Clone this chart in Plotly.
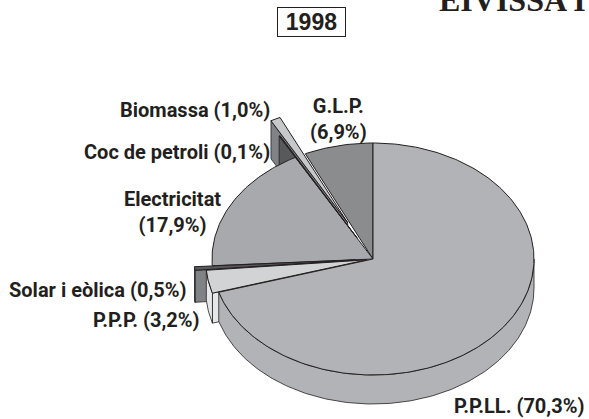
import numpy as np
import plotly.graph_objects as go

# data (clockwise from 12 o'clock)
names = ["P.P.LL.", "P.P.P.", "Solar i eòlica", "Electricitat", "Coc de petroli", "Biomassa", "G.L.P."]
values = [70.3, 3.2, 0.5, 17.9, 0.1, 1.0, 6.9]
labels = ["P.P.LL. (70,3%)", "P.P.P. (3,2%)", "Solar i eòlica (0,5%)", "Electricitat<br>(17,9%)",
          "Coc de petroli (0,1%)", "Biomassa (1,0%)", "G.L.P.<br>(6,9%)"]
year = "1998"
title_text = "EIVISSA I"

# style
W, H = 589, 419
CX, CY, RX, RY = 373, 259, 161, 116
explode = [0, 0.04, 0.11, 0, 0.21, 0.35, 0]
depth = [29, 30, 32, 0, 30, 38, 0]
top_col = ["#b1b3b6", "#d1d3d4", "#58595b", "#a7a9ac", "#414042", "#c7c8ca", "#8a8c8e"]
wall_col = ["#b1b3b6", "#e6e7e8", "#808285", "#a7a9ac", "#58595b", "#808285", "#8a8c8e"]
LINE = dict(color="#231f20", width=1)
WALL_LINE = dict(color="#231f20", width=0.8)

cum = np.cumsum([0] + values)
total = cum[-1]
start = cum[:-1] / total * 2 * np.pi
end = cum[1:] / total * 2 * np.pi

fig = go.Figure()


def offset(i):
    m = (start[i] + end[i]) / 2
    return explode[i] * np.sin(m), explode[i] * np.cos(m)


def arc(a, b):
    n = max(2, int(abs(b - a) * 60))
    return np.linspace(a, b, n)


def poly(xs, ys, col, line=LINE):
    fig.add_trace(go.Scatter(x=xs, y=ys, mode="lines", fill="toself", fillcolor=col, line=line,
                             hoverinfo="skip", showlegend=False))


def top(i):
    dx, dy = offset(i)
    t = arc(start[i], end[i])
    xs = np.r_[dx, dx + np.sin(t), dx]
    ys = np.r_[dy, dy + np.cos(t), dy]
    poly(xs, ys, top_col[i])


def outer_wall(i, a=None, b=None):
    dx, dy = offset(i)
    d = depth[i] / RY
    t = arc(start[i] if a is None else a, end[i] if b is None else b)
    xs = np.r_[dx + np.sin(t), dx + np.sin(t[::-1]), dx + np.sin(t[0])]
    ys = np.r_[dy + np.cos(t), dy + np.cos(t[::-1]) - d, dy + np.cos(t[0])]
    poly(xs, ys, wall_col[i], WALL_LINE)


def cut_face(i, a, col=None):
    dx, dy = offset(i)
    d = depth[i] / RY
    ex, ey = dx + np.sin(a), dy + np.cos(a)
    poly([dx, ex, ex, dx, dx], [dy, ey, ey - d, dy - d, dy], col or wall_col[i], WALL_LINE)


# painter's order, back to front
top(6)                      # G.L.P.
cut_face(5, start[5])       # Biomassa
cut_face(4, start[4])       # Coc de petroli
top(3)                      # Electricitat
top(4)
top(5)
cut_face(2, start[2])       # Solar
outer_wall(2)
top(2)
cut_face(1, start[1])       # P.P.P.
outer_wall(1)
top(1)
outer_wall(0, np.pi / 2, end[0])  # P.P.LL.
top(0)

font_lbl = dict(family="Roboto", size=20, color="#231f20")
anchors = [(519.5, 406), (146.5, 320), (97.5, 290), (172, 212), (177, 152), (195, 110), (338, 119)]
ann = []
for s, (px, py) in zip(labels, anchors):
    ann.append(dict(text="<b>%s</b>" % s, x=px / W, y=1 - py / H, xref="paper", yref="paper",
                    xanchor="center", yanchor="middle", showarrow=False, font=font_lbl,
                    align="center"))
ann.append(dict(text="<b>%s</b>" % year, x=311.5 / W, y=1 - 22 / H, xref="paper", yref="paper",
                xanchor="center", yanchor="middle", showarrow=False, width=67, height=28,
                bordercolor="#231f20", borderwidth=1, bgcolor="white", borderpad=0,
                font=dict(family="Liberation Sans", size=23, color="#231f20")))
ann.append(dict(text="<b>%s</b>" % title_text, x=588 / W, y=1.0, xref="paper", yref="paper",
                xanchor="right", yanchor="middle", showarrow=False,
                font=dict(family="Liberation Serif", size=32, color="#231f20")))

fig.update_layout(
    width=W, height=H, margin=dict(l=0, r=0, t=0, b=0),
    paper_bgcolor="white", plot_bgcolor="white", showlegend=False, annotations=ann,
    xaxis=dict(visible=False, range=[-CX / RX, (W - CX) / RX], fixedrange=True),
    yaxis=dict(visible=False, range=[(CY - H) / RY, CY / RY], fixedrange=True),
)
fig.write_html("out.html", config=dict(displayModeBar=False),
               post_script="document.body.style.margin='0';document.body.style.overflow='hidden';")
